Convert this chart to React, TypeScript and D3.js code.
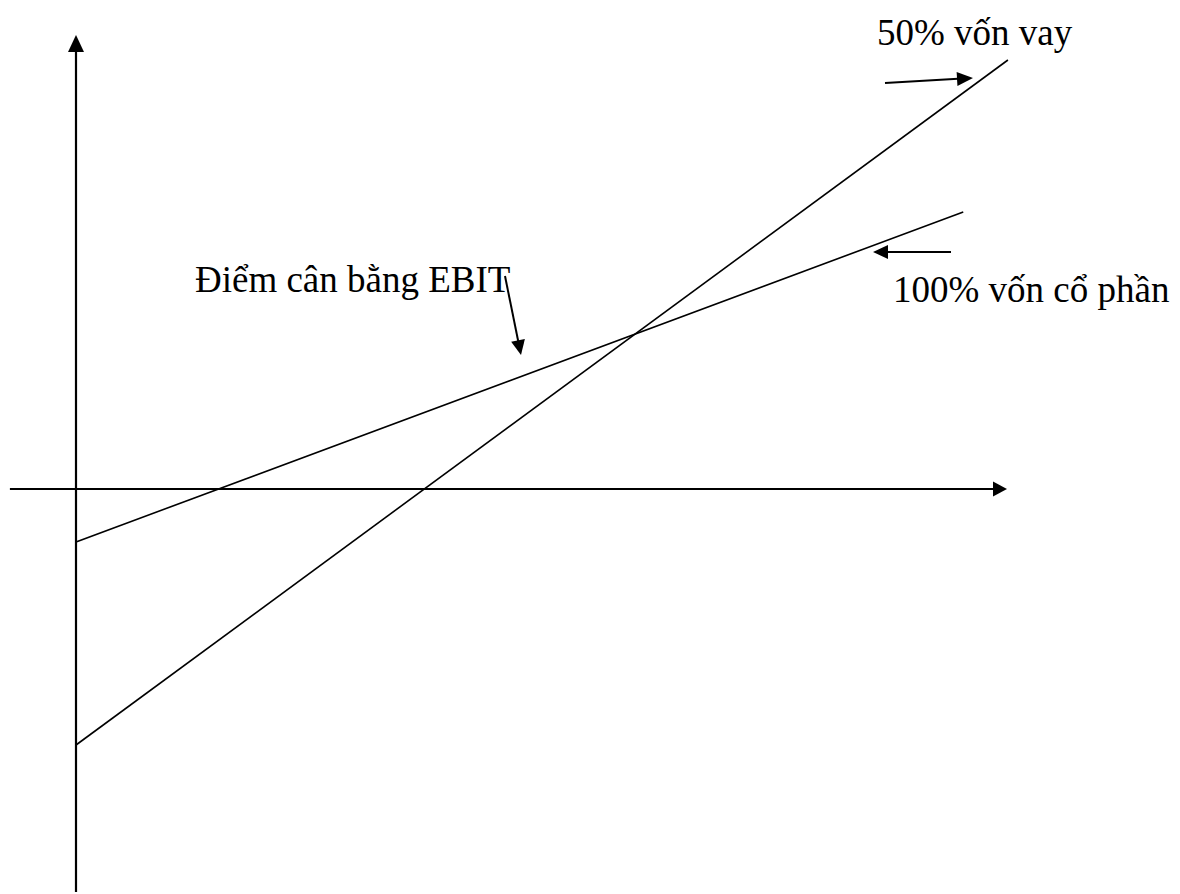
import React, { useEffect, useRef } from 'react';
import * as d3 from 'd3';

// EBIT on x, EPS on y (no units on the original, so arbitrary units)
const seriesNames = ['100% vốn cổ phần', '50% vốn vay'];
const equityEbit = [0, 95.3];
const equityEps = [-5.3, 27.7];
const debtEbit = [0, 100.1];
const debtEps = [-25.6, 42.9];

const breakEvenLabel = 'Điểm cân bằng EBIT';

// axis extents in data units
const xAxisExtent = [-7.1, 100];
const yAxisExtent = [-40.3, 45.4];

function App() {
  const ref = useRef<SVGSVGElement | null>(null);

  useEffect(() => {
    drawChart();
  }, []);

  const drawChart = () => {
    const svg = d3.select(ref.current);
    svg.selectAll('*').remove();

    const x = d3.scaleLinear().domain([0, 100]).range([76, 1007]);
    const y = d3.scaleLinear().domain([0, 10]).range([489, 389]);

    // line with filled triangular head at (x2, y2)
    const arrow = (x1: number, y1: number, x2: number, y2: number, len: number, half: number, w: number) => {
      const dx = x2 - x1, dy = y2 - y1;
      const d = Math.sqrt(dx * dx + dy * dy);
      const ux = dx / d, uy = dy / d;
      const bx = x2 - ux * len, by = y2 - uy * len;
      svg.append('line')
        .attr('x1', x1).attr('y1', y1)
        .attr('x2', bx + ux).attr('y2', by + uy)
        .attr('stroke', '#000')
        .attr('stroke-width', w);
      svg.append('polygon')
        .attr('points', [
          [x2, y2],
          [bx - uy * half, by + ux * half],
          [bx + uy * half, by - ux * half]
        ].map(p => p.join(',')).join(' '))
        .attr('fill', '#000');
    };

    // axes
    arrow(x(0), y(yAxisExtent[0]), x(0), y(yAxisExtent[1]), 17, 8, 2.2);
    arrow(x(xAxisExtent[0]), y(0), x(xAxisExtent[1]), y(0), 14, 7.5, 2.2);

    // the two EPS lines
    const line = d3.line<number>()
      .x(d => x(d));
    const lines = [
      { ebit: equityEbit, eps: equityEps },
      { ebit: debtEbit, eps: debtEps }
    ];
    lines.forEach(s => {
      svg.append('path')
        .attr('d', d3.line<[number, number]>()
          .x(d => x(d[0]))
          .y(d => y(d[1]))(s.ebit.map((e, i) => [e, s.eps[i]] as [number, number])))
        .attr('fill', 'none')
        .attr('stroke', '#000')
        .attr('stroke-width', 1.6);
    });

    const font = '"Liberation Serif", "Times New Roman", serif';
    const label = (t: string, lx: number, ly: number) => {
      svg.append('text')
        .text(t)
        .attr('x', lx)
        .attr('y', ly)
        .attr('font-family', font)
        .attr('font-size', 37)
        .attr('fill', '#000');
    };

    // labels + pointer arrows
    label(seriesNames[1], 877, 45);
    arrow(885, 83, 973, 78, 16, 7, 2);

    label(seriesNames[0], 893, 302);
    arrow(951, 252, 873, 252, 15, 7, 2);

    label(breakEvenLabel, 195, 292);
    arrow(505, 276, 521, 355, 15, 7, 2);
  };

  return (
    <svg
      ref={ref}
      width={1180}
      height={894}
      style={{ position: 'absolute', left: 0, top: 0, background: '#fff' }}
    />
  );
}

export default App;
